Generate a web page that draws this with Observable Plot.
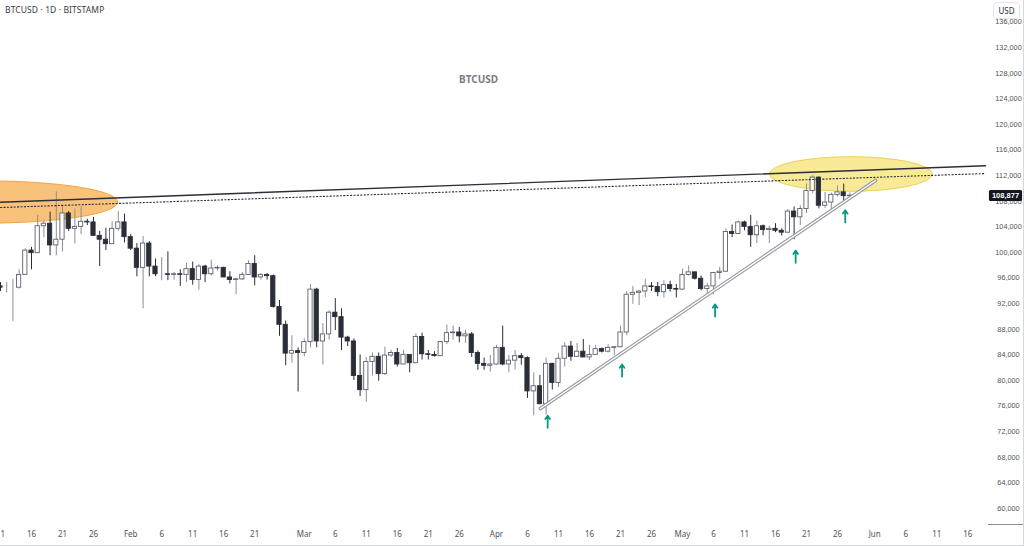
<!DOCTYPE html>
<html>
<head>
<meta charset="utf-8">
<script src="https://cdn.jsdelivr.net/npm/d3@7"></script>
<script src="https://cdn.jsdelivr.net/npm/@observablehq/plot@0.6"></script>
<style>
  html, body { margin: 0; padding: 0; background: #fff; }
  #wrap { position: relative; width: 1024px; height: 546px; overflow: hidden; font-family: "Noto Sans", "DejaVu Sans", sans-serif; }
  #wrap svg { position: absolute; left: 0; top: 0; }
  .sym { position: absolute; left: 5px; top: 4px; font-size: 8.5px; line-height: 11px; color: #3a3d45; letter-spacing: 0.1px; }
  .title { position: absolute; left: 459px; top: 73px; font-size: 10px; line-height: 13px; font-weight: 700; color: #7a7d86; }
  .usd { position: absolute; left: 993px; top: 2px; width: 27px; height: 17px; border: 1px solid #e0e3eb; border-radius: 4px; background: #fff; font-size: 8px; color: #2a2e39; text-align: center; line-height: 15px; box-sizing: border-box; }
  .corner { position: absolute; left: 988px; top: 524px; width: 36px; height: 1px; background: #8a8d95; }
  .bottom { position: absolute; left: 0; top: 545px; width: 1024px; height: 1px; background: #d6d8de; }
  .rightb { position: absolute; left: 1023px; top: 0; width: 1px; height: 546px; background: #d6d8de; }
</style>
</head>
<body>
<div id="wrap"></div>
<script>
// ---- data (prices in thousands of USD) ----
const firstDate = "2025-01-11";
const lastDate = "2025-05-28";

const opens = [
  // Jan 11-31
  94.7,94.5,94.5,94.5,96.5,100.3,99.9,104.1,104.5,101.1,102.0,106.1,103.7,104.0,104.8,104.7,102.6,102.0,101.3,103.7,104.7,
  // Feb
  102.4,100.6,97.6,101.4,97.8,96.6,96.6,96.5,96.6,96.5,97.4,95.7,97.8,96.6,97.5,97.6,96.1,95.7,95.8,96.5,98.2,96.1,96.5,96.3,91.5,88.7,84.2,84.6,
  // Mar
  84.3,86.0,94.2,86.1,87.2,90.6,89.9,86.7,86.1,80.7,78.5,82.9,83.7,81.0,83.9,84.3,82.5,84.0,82.7,86.8,84.1,84.0,83.8,86.0,87.4,87.5,86.9,87.2,84.3,82.6,82.3,
  // Apr
  82.5,85.1,82.5,83.1,83.8,83.5,78.3,79.1,76.3,82.6,79.6,83.4,85.3,83.7,84.5,83.6,84.0,84.9,84.5,85.1,85.2,87.5,93.4,93.7,93.9,94.7,94.6,93.8,94.9,94.3,
  // May 1-28
  94.2,96.5,96.9,95.9,94.3,94.7,96.8,97.0,103.2,102.9,104.7,104.0,102.7,104.1,103.5,103.7,103.4,103.1,106.4,105.5,106.8,109.6,111.7,107.3,107.8,109.0,109.4,108.8
];
const highs = [
  95.3,95.3,95.8,97.3,100.6,100.8,105.8,104.9,106.3,109.5,107.2,106.4,106.8,107.1,105.2,105.5,103.3,103.8,104.8,106.4,106.0,
  102.8,101.4,102.5,101.7,99.0,99.2,100.1,96.9,97.3,98.3,98.5,98.1,98.0,98.8,97.9,97.7,97.0,96.0,96.9,98.7,99.5,96.7,96.7,96.5,92.5,89.3,87.0,85.1,
  86.5,95.0,94.4,88.9,90.9,92.8,91.2,86.9,86.5,84.0,83.6,84.3,84.3,85.2,84.7,85.0,84.7,84.0,87.3,87.4,84.7,84.5,86.1,88.7,88.5,88.3,87.8,87.5,84.6,83.5,83.9,
  85.5,88.5,83.9,84.7,84.2,83.7,81.2,80.8,83.5,82.7,84.2,85.9,86.1,85.8,86.4,85.5,85.5,85.1,85.6,85.3,88.5,93.9,94.7,94.0,95.8,95.3,95.3,95.6,95.5,95.0,
  97.4,97.9,96.9,96.3,95.2,96.9,97.7,103.7,104.3,104.9,104.9,105.8,104.9,104.3,104.1,104.5,103.7,106.7,107.1,107.3,110.7,112.0,111.8,109.4,109.3,110.4,110.7,109.3
];
const lows = [
  93.9,93.7,89.2,94.3,96.5,97.3,99.9,102.3,99.5,99.5,100.1,103.3,101.3,102.8,104.2,102.5,97.8,100.3,101.3,103.3,101.5,
  100.3,96.2,91.2,96.2,96.2,95.6,95.6,95.7,94.7,95.3,94.9,94.1,95.3,96.3,97.1,96.1,95.1,93.4,95.6,96.4,94.8,95.7,95.7,91.3,86.9,82.3,82.7,78.2,
  83.7,85.1,85.1,82.4,86.3,87.8,84.7,85.3,80.0,77.5,76.6,80.7,79.9,80.8,83.6,82.1,82.5,81.2,82.7,83.2,83.2,83.7,83.8,85.6,86.3,85.9,85.8,83.6,81.6,81.6,81.3,
  82.4,82.3,81.2,81.6,82.4,77.2,74.5,76.2,74.6,78.5,78.9,82.1,83.0,83.7,83.6,83.1,83.9,84.3,84.3,83.9,85.1,87.0,91.9,91.7,92.9,93.9,93.1,92.9,93.8,92.9,
  94.1,96.3,95.7,94.0,93.5,93.4,95.8,96.9,102.3,102.8,103.4,100.8,101.4,102.6,101.4,103.1,102.6,103.0,102.0,104.2,106.1,109.2,106.8,106.9,106.7,108.7,107.5,108.5
];
const closes = [
  94.5,94.5,94.5,96.5,100.3,99.9,104.1,104.5,101.1,102.0,106.1,103.7,104.0,104.8,104.7,102.6,102.0,101.3,103.7,104.7,102.4,
  100.6,97.6,101.4,97.8,96.6,96.6,96.5,96.6,96.5,97.4,95.7,97.8,96.6,97.5,97.6,96.1,95.7,95.8,96.5,98.2,96.1,96.5,96.3,91.5,88.7,84.2,84.6,84.3,
  86.0,94.2,86.1,87.2,90.6,89.9,86.7,86.1,80.7,78.5,82.9,83.7,81.0,83.9,84.3,82.5,84.0,82.7,86.8,84.1,84.0,83.8,86.0,87.4,87.5,86.9,87.2,84.3,82.6,82.3,82.5,
  85.1,82.5,83.1,83.8,83.5,78.3,79.1,76.3,82.6,79.6,83.4,85.3,83.7,84.5,83.6,84.0,84.9,84.5,85.1,85.2,87.5,93.4,93.7,93.9,94.7,94.6,93.8,94.9,94.3,94.2,
  96.5,96.9,95.9,94.3,94.7,96.8,97.0,103.2,102.9,104.7,104.0,102.7,104.1,103.5,103.7,103.4,103.1,106.4,105.5,106.8,109.6,111.7,107.3,107.8,109.0,109.4,108.8,108.877
];
const lastPrice = 108877;

// Resistance line (solid) and dotted level
const resDates = ["2025-01-11", "2025-06-18T21:00Z"];
const resPrices = [107860, 113560];
const dotDates = ["2025-01-11", "2025-06-18T21:00Z"];
const dotPrices = [107030, 112340];

// Rising support trend line
const trendDates = ["2025-04-08T02:00Z", "2025-06-01T03:00Z"];
const trendPrices = [75625, 111250];

// Up arrows (touches of the trend line)
const arrowDates = ["2025-04-09T06:00Z", "2025-04-21T06:00Z", "2025-05-06T06:00Z", "2025-05-19T06:00Z", "2025-05-27T06:00Z"];
const arrowTips = [74500, 82500, 91900, 100300, 106600];
const arrowBases = [72600, 80600, 90000, 98400, 104700];

// Highlight ellipses: centre date/price, half-width (days), half-height (price)
const ellipseDates = ["2025-01-08T14:00Z", "2025-05-28T06:00Z"];
const ellipsePrices = [107810, 112190];
const ellipseHalfDays = [21.4, 13.1];
const ellipseHalfPrices = [3300, 2700];
const ellipseFills = ["#f9c27a", "#f8ea96"];
const ellipseStrokes = ["#f2a444", "#ead25a"];

// Axis ticks
const xTickDates = ["2025-01-11","2025-01-16","2025-01-21","2025-01-26","2025-02-01","2025-02-06","2025-02-11","2025-02-16","2025-02-21",
  "2025-03-01","2025-03-06","2025-03-11","2025-03-16","2025-03-21","2025-03-26","2025-04-01","2025-04-06","2025-04-11","2025-04-16",
  "2025-04-21","2025-04-26","2025-05-01","2025-05-06","2025-05-11","2025-05-16","2025-05-21","2025-05-26","2025-06-01","2025-06-06",
  "2025-06-11","2025-06-16"];
const yTicks = [60000,64000,68000,72000,76000,80000,84000,88000,92000,96000,100000,104000,108000,112000,116000,120000,124000,128000,132000,136000];
const monthNames = ["Jan","Feb","Mar","Apr","May","Jun"];

// ---- build ----
const DAY = 864e5;
const dates = d3.utcDay.range(new Date(firstDate), d3.utcDay.offset(new Date(lastDate), 1));
const candles = dates.map((d, i) => ({
  date: d, open: opens[i] * 1000, high: highs[i] * 1000, low: lows[i] * 1000, close: closes[i] * 1000
}));
const resLine = resDates.map((d, i) => ({date: new Date(d), price: resPrices[i]}));
const dotLine = dotDates.map((d, i) => ({date: new Date(d), price: dotPrices[i]}));
const trend = trendDates.map((d, i) => ({date: new Date(d), price: trendPrices[i]}));
const arrows = arrowDates.map((d, i) => ({date: new Date(d), tip: arrowTips[i], base: arrowBases[i]}));
const ellipses = ellipseDates.map((d, i) => ({
  date: new Date(d), price: ellipsePrices[i], hd: ellipseHalfDays[i], hp: ellipseHalfPrices[i],
  fill: ellipseFills[i], stroke: ellipseStrokes[i]
}));

const xStart = new Date("2025-01-11");
const xEnd = new Date(+xStart + 158.87 * DAY);

function ellipseMark(items) {
  return (index, scales) => {
    const g = d3.create("svg:g");
    for (const e of items) {
      const cx = scales.x(e.date), cy = scales.y(e.price);
      const rx = scales.x(new Date(+e.date + e.hd * DAY)) - cx;
      const ry = cy - scales.y(e.price + e.hp);
      g.append("ellipse").attr("cx", cx).attr("cy", cy).attr("rx", rx).attr("ry", ry)
        .attr("fill", e.fill).attr("stroke", e.stroke).attr("stroke-width", 1);
    }
    return g.node();
  };
}

const fmtY = d3.format(",");
const chart = Plot.plot({
  width: 1024, height: 546,
  marginLeft: 0, marginRight: 39, marginTop: 0, marginBottom: 24,
  style: {background: "transparent", fontFamily: "'Noto Sans', 'DejaVu Sans', sans-serif", fontSize: "8px", color: "#50535b"},
  x: {type: "utc", domain: [xStart, xEnd], axis: null},
  y: {domain: [57812.5, 139375], axis: null},
  marks: [
    ellipseMark(ellipses),
    Plot.ruleX(candles, {x: "date", y1: "low", y2: "high", stroke: d => d.close >= d.open ? "#8b8e96" : "#2a2e39", strokeWidth: 1}),
    Plot.rect(candles, {
      x1: d => new Date(+d.date - 0.34 * DAY), x2: d => new Date(+d.date + 0.34 * DAY),
      y1: "open", y2: "close",
      fill: d => d.close >= d.open ? "#ffffff" : "#2a2e39",
      stroke: d => d.close >= d.open ? "#5d606b" : "#2a2e39", strokeWidth: 0.9
    }),
    Plot.line(resLine, {x: "date", y: "price", stroke: "#2a2e39", strokeWidth: 1.4}),
    Plot.line(dotLine, {x: "date", y: "price", stroke: "#2a2e39", strokeWidth: 1.1, strokeDasharray: "1.2,2.2"}),
    Plot.line(trend, {x: "date", y: "price", stroke: "#9598a1", strokeWidth: 3.6}),
    Plot.line(trend, {x: "date", y: "price", stroke: "#ffffff", strokeWidth: 1.4}),
    Plot.arrow(arrows, {x: "date", y1: "base", y2: "tip", stroke: "#089981", strokeWidth: 1.8, headLength: 5, headAngle: 70}),
    Plot.axisX(xTickDates.map(d => new Date(d)), {
      tickSize: 0, tickPadding: 9, fontSize: 8, fill: "#50535b",
      tickFormat: d => d.getUTCDate() === 1 ? monthNames[d.getUTCMonth()] : String(d.getUTCDate()),
      fontWeight: d => d.getUTCDate() === 1 ? 600 : 400
    }),
    Plot.axisY(yTicks, {anchor: "right", tickSize: 0, tickPadding: 23, textAnchor: "middle", fontSize: 7.3, fill: "#50535b", tickFormat: fmtY, fontFamily: "'Liberation Sans', sans-serif"}),
    Plot.text([lastPrice], {y: d => d, frameAnchor: "right", dx: 20, textAnchor: "middle", text: d => fmtY(d), fill: "#ffffff", fontSize: 7.5, fontWeight: 600, fontFamily: "'Liberation Sans', sans-serif", className: "lastprice"})
  ]
});

const wrap = document.getElementById("wrap");
wrap.appendChild(chart);

// dark badge behind the last price label
const lp = chart.querySelector(".lastprice text");
if (lp) {
  const bb = lp.getBBox();
  const r = document.createElementNS("http://www.w3.org/2000/svg", "rect");
  r.setAttribute("x", bb.x - 3); r.setAttribute("y", bb.y - 1);
  r.setAttribute("width", bb.width + 6); r.setAttribute("height", bb.height + 2);
  r.setAttribute("rx", 1.5);
  r.setAttribute("fill", "#131722");
  const tr = lp.getAttribute("transform");
  if (tr) r.setAttribute("transform", tr);
  lp.parentNode.insertBefore(r, lp);
}

for (const [cls, txt] of [["sym", "BTCUSD · 1D · BITSTAMP"], ["title", "BTCUSD"], ["usd", "USD"], ["corner", ""], ["bottom", ""], ["rightb", ""]]) {
  const el = document.createElement("div");
  el.className = cls; el.textContent = txt;
  wrap.appendChild(el);
}
</script>
</body>
</html>
